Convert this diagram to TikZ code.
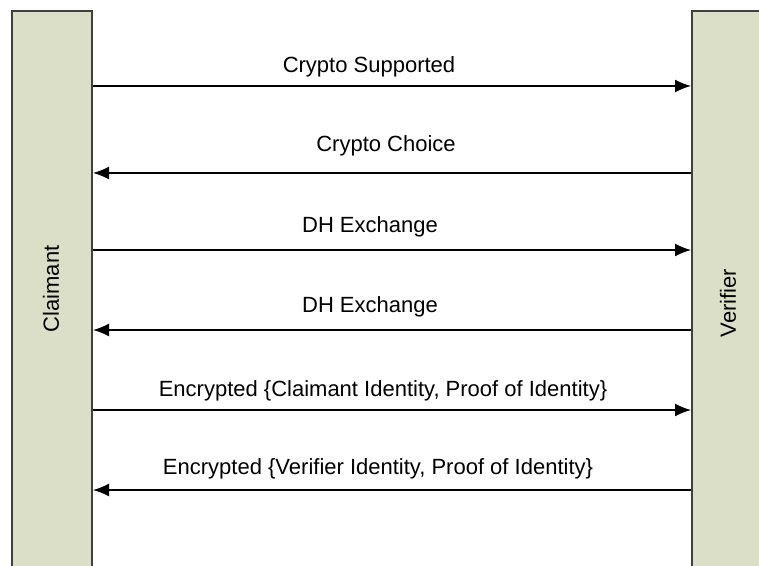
\documentclass[tikz,border=0pt]{standalone}
\usepackage{fontspec}
\setmainfont{Liberation Sans}
\usetikzlibrary{arrows.meta}
\definecolor{lanefill}{RGB}{220,223,200}
\definecolor{laneline}{RGB}{64,64,64}

\begin{document}
\begin{tikzpicture}[x=0.5pt, y=-0.5pt, >={Latex[length=8pt,width=6.5pt]},
  every node/.style={font=\fontsize{11}{13}\selectfont},
  lane/.style={draw=laneline, line width=1pt, fill=lanefill, inner sep=0pt,
    minimum height=285pt, anchor=north west},
  msg/.style={->, line width=0.75pt},
  msglabel/.style={anchor=base, inner sep=0pt}]
  \useasboundingbox (0,0) rectangle (759,566);
  \clip (0,0) rectangle (759,566);
  % the two parties
  \node[lane, minimum width=40pt] (claimant) at (11,10) {};
  \node[lane, minimum width=70pt] (verifier) at (691,10) {};
  \node[rotate=90] (claimantname) at (51,289) {Claimant};
  \node[rotate=90] (verifiername) at (728,303) {Verifier};
  % messages
  \foreach \y in {86,250,410}
    \draw[msg] (claimant.east |- 0,\y) -- (verifier.west |- 0,\y);
  \foreach \y in {173,330,490}
    \draw[msg] (verifier.west |- 0,\y) -- (claimant.east |- 0,\y);
  \node[msglabel] (m1) at (369,73) {Crypto Supported};
  \node[msglabel] (m2) at (386,152) {Crypto Choice};
  \node[msglabel] (m3) at (370,233) {DH Exchange};
  \node[msglabel] (m4) at (370,313) {DH Exchange};
  \node[msglabel] (m5) at (383,396) {Encrypted \{Claimant Identity, Proof of Identity\}};
  \node[msglabel] (m6) at (378,474) {Encrypted \{Verifier Identity, Proof of Identity\}};
\end{tikzpicture}
\end{document}
